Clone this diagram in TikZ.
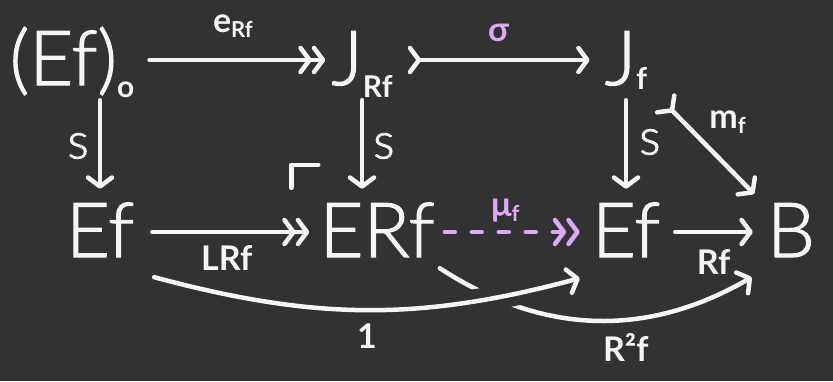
\documentclass[tikz,border=0pt]{standalone}
\usepackage{fontspec}
\setmainfont{Lato}[UprightFont=* Light, UprightFeatures={FakeBold=1.6}, BoldFont=* Bold]
\usetikzlibrary{arrows.meta}

\definecolor{board}{HTML}{323232}
\definecolor{chalk}{HTML}{F5F5F5}
\definecolor{lilac}{HTML}{DDA9F5}

\newcommand{\objfont}{\fontsize{76}{80}\selectfont}
\newcommand{\lblfont}{\fontsize{34}{36}\selectfont\bfseries}
% lowered indices for objects and for arrow labels
\newcommand{\objsub}[2][12pt]{\raisebox{-#1}{\fontsize{30}{30}\selectfont\bfseries #2}}
\newcommand{\lblsub}[2][5pt]{\raisebox{-#1}{\fontsize{22}{22}\selectfont\bfseries #2}}

\begin{document}
\begin{tikzpicture}[x=1pt, y=-1pt,
    obj/.style={font=\objfont, text=chalk, inner sep=0pt, text height=50pt, text depth=0pt},
    lbl/.style={font=\lblfont, text=chalk, inner sep=0pt},
    slbl/.style={font=\fontsize{50}{52}\selectfont, text=chalk, inner sep=0pt},
    mapto/.style={draw=chalk, line width=4.5pt, line cap=round,
        -{Straight Barb[length=9pt,width=24pt,round]}},
    epi/.style={mapto,
        -{Straight Barb[length=9pt,width=24pt,round]Straight Barb[length=9pt,width=24pt,round]}},
    mono/.style={mapto,
        {Straight Barb[length=9pt,width=24pt,round,reversed]}-{Straight Barb[length=9pt,width=24pt,round]}},
    ]

    \path[use as bounding box, fill=board] (0,0) rectangle (833,381);

    % top row
    \node[obj] (efo) at (72,60) {(Ef)\objsub{o}};
    \node[obj] (jrf) at (362,60) {J\objsub{Rf}};
    \node[obj] (jf) at (626,60) {J\objsub[4pt]{f}};

    % bottom row
    \node[obj] (ef) at (100,232) {Ef};
    \node[obj] (erf) at (377,232) {ERf};
    \node[obj] (efm) at (626,232) {Ef};
    \node[obj] (b) at (791,232) {B};

    % horizontal maps
    \draw[epi, shorten <=15pt, shorten >=6pt] (efo.east) -- node[lbl, above=20pt] {e\lblsub{Rf}} (jrf.west);
    \draw[mono, shorten <=15pt, shorten >=15pt] (jrf.east) -- node[lbl, text=lilac, above=16pt] {σ} (jf.west);
    \draw[epi, shorten <=18pt, shorten >=10pt] (ef.east) -- node[lbl, below=11pt] {LRf} (erf.west);
    \draw[epi, draw=lilac, dash pattern=on 10pt off 17pt, shorten <=10pt, shorten >=12pt]
        (erf.east) -- node[lbl, text=lilac, above=8pt, xshift=-8pt] {μ\lblsub{f}} (efm.west);
    \draw[mapto, shorten <=15pt, shorten >=14pt] (efm.east) -- node[lbl, below=15pt] {Rf} (b.west);

    % vertical maps
    \draw[mapto, shorten <=15pt, shorten >=18pt] (ef.north |- efo.south) -- node[slbl, left=9pt] {s} (ef.north);
    \draw[mapto, shorten <=15pt, shorten >=18pt] (jrf.south) -- node[slbl, right=9pt] {s} (jrf.south |- erf.north);
    \draw[mapto, shorten <=15pt, shorten >=18pt] (jf.south) -- node[slbl, right=11pt, yshift=4pt] {s} (jf.south |- efm.north);

    % diagonal
    \draw[mono, shorten <=24pt, shorten >=18pt] (jf.south east) -- node[lbl, anchor=south west, yshift=10pt] {m\lblsub{f}} (b.north west);

    % pullback corner
    \draw[chalk, line width=4.5pt, line cap=round, line join=round]
        ([shift={(-28pt,19pt)}]erf.north west) -- ++(0,-23) -- ++(27,0);

    % curved maps, R^2 f passes under 1
    \draw[mapto] ([shift={(5pt,-11pt)}]erf.south east) to[out=-33, in=210]
        node[lbl, pos=0.6, below=12pt] {R²f} ([shift={(-15pt,-20pt)}]b.south west);
    \draw[mapto, preaction={draw=board, line width=24pt, arrows=-}]
        ([shift={(20pt,-20pt)}]ef.south east) to[out=-15, in=195]
        node[lbl, below=12pt] {1} ([shift={(-12pt,-21pt)}]efm.south west);
\end{tikzpicture}
\end{document}
